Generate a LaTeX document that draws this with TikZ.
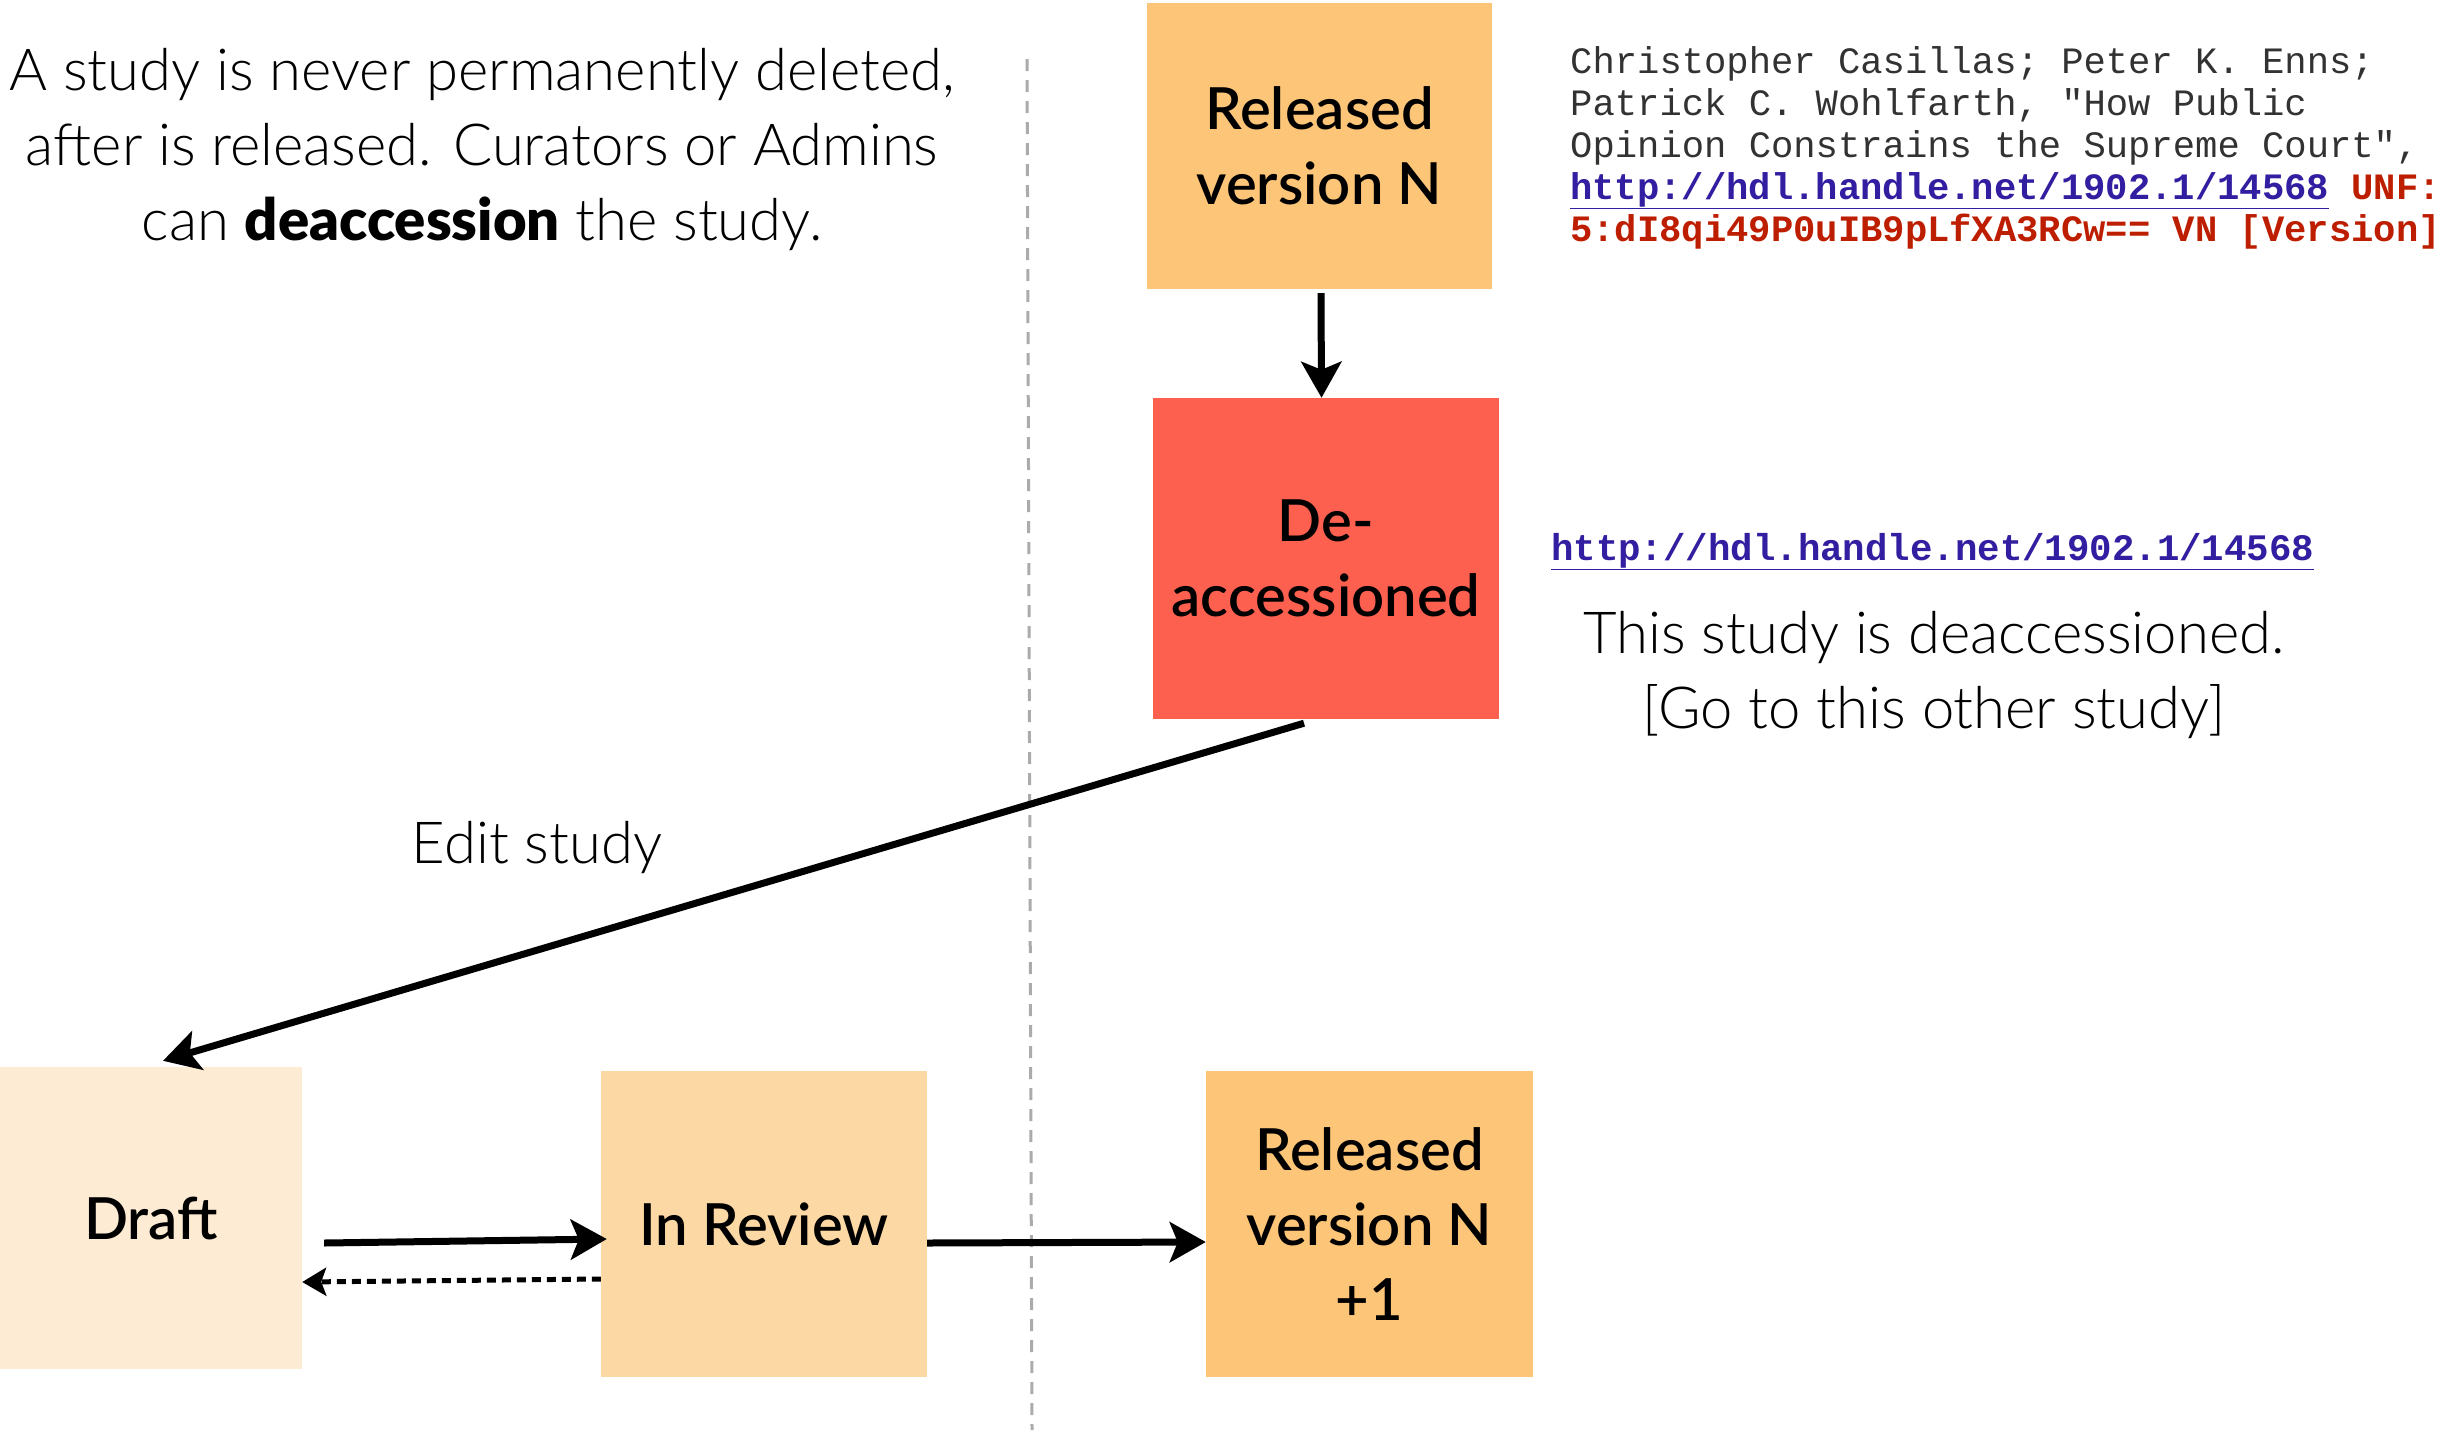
\documentclass[tikz,border=0pt]{standalone}
\usepackage{fontspec}
\usetikzlibrary{arrows.meta}
\newfontfamily\latoreg{Lato}
\IfFontExistsTF{Lato Light}{\newfontfamily\lightfont{Lato Light}}{\newfontfamily\lightfont{Lato}}
\IfFontExistsTF{Lato Semibold}{\newfontfamily\boxfont{Lato Semibold}}{\newcommand\boxfont{\latoreg\bfseries}}
\IfFontExistsTF{Lato Black}{\newfontfamily\heavyfont{Lato Black}}{\newcommand\heavyfont{\latoreg\bfseries}}
\newfontfamily\citefont{Liberation Mono}
\definecolor{relcol}{RGB}{253,197,119}
\definecolor{deacccol}{RGB}{254,96,80}
\definecolor{draftcol}{RGB}{253,235,211}
\definecolor{reviewcol}{RGB}{252,216,164}
\definecolor{linkblue}{RGB}{50,30,160}
\definecolor{unfred}{RGB}{190,30,0}
\definecolor{citegray}{RGB}{50,50,50}
\begin{document}
\begin{tikzpicture}[x=1pt,y=-1pt,
  box/.style={rectangle, inner sep=0pt, align=center, text=black,
    font=\boxfont\fontsize{58}{75}\selectfont},
  plain/.style={inner sep=0pt, align=center,
    font=\lightfont\fontsize{58}{75}\selectfont},
  cite/.style={inner sep=0pt, anchor=base west, text=citegray,
    font=\citefont\fontsize{37.2}{42}\selectfont},
  arr/.style={line width=7pt, -{Stealth[length=36pt,width=40pt,inset=8pt]}},
  dotarr/.style={line width=5pt, dash pattern=on 9pt off 6pt,
    -{Stealth[length=24pt,width=28pt,inset=5pt]}},
  divider/.style={draw=black!33, line width=3pt, dash pattern=on 12pt off 9pt}]
\useasboundingbox (0,0) rectangle (2440,1430);

% divider
\coordinate (dtop) at (1027,59);
\coordinate (dbot) at (1032,1430);
\draw[divider] (dtop) -- (dbot);

% boxes
\node[box, fill=relcol, minimum width=345pt, minimum height=286pt] (rel) at (1319.5,146) {Released\\version N};
\node[box, fill=deacccol, minimum width=346pt, minimum height=321pt] (deacc) at (1326,558.5) {De-\\accessioned};
\node[box, fill=draftcol, minimum width=302pt, minimum height=302pt] (draft) at (151,1218) {Draft};
\node[box, fill=reviewcol, minimum width=326pt, minimum height=306pt] (review) at (764,1224) {In Review};
\node[box, fill=relcol, minimum width=327pt, minimum height=306pt] (reln) at (1369.5,1224) {Released\\version N\\+1};

% texts
\node[plain] (intro) at (482,150) {A study is never permanently deleted,\\after is released. Curators or Admins\\can {\heavyfont deaccession} the study.};
\node[plain] (edit) at (537,847) {Edit study};
\node[plain] (notice) at (1934,675) {This study is deaccessioned.\\{[Go} to this other study]};

\node[cite] (c1) at (1570,73) {Christopher Casillas; Peter K. Enns;};
\node[cite] (c2) at (1570,115) {Patrick C. Wohlfarth, "How Public};
\node[cite] (c3) at (1570,157) {Opinion Constrains the Supreme Court",};
\node[cite] (c4) at (1570,199) {\bfseries{\color{linkblue}\underline{http://hdl.handle.net/1902.1/14568}} {\color{unfred}UNF:}};
\node[cite, text=unfred] (c5) at (1570,241) {\bfseries 5:dI8qi49P0uIB9pLfXA3RCw== VN [Version]};
\node[cite, text=linkblue] (link2) at (1551,560) {\bfseries\fontsize{37.4}{42}\selectfont\underline{http://hdl.handle.net/1902.1/14568}};

% connectors
\draw[arr] ([xshift=1.5pt,yshift=-4pt]rel.south) -- ([xshift=-4.5pt]deacc.north);
\draw[arr] ([xshift=-22pt,yshift=-4pt]deacc.south) -- ([xshift=12pt,yshift=6pt]draft.north);
\draw[arr] ([xshift=22pt,yshift=-25pt]draft.east) -- ([xshift=6pt,yshift=-15pt]review.west);
\draw[dotarr] ([yshift=-55pt]review.west) -- ([yshift=-64pt]draft.east);
\draw[arr] ([yshift=-19pt]review.east) -- ([yshift=-18pt]reln.west);
\end{tikzpicture}
\end{document}
